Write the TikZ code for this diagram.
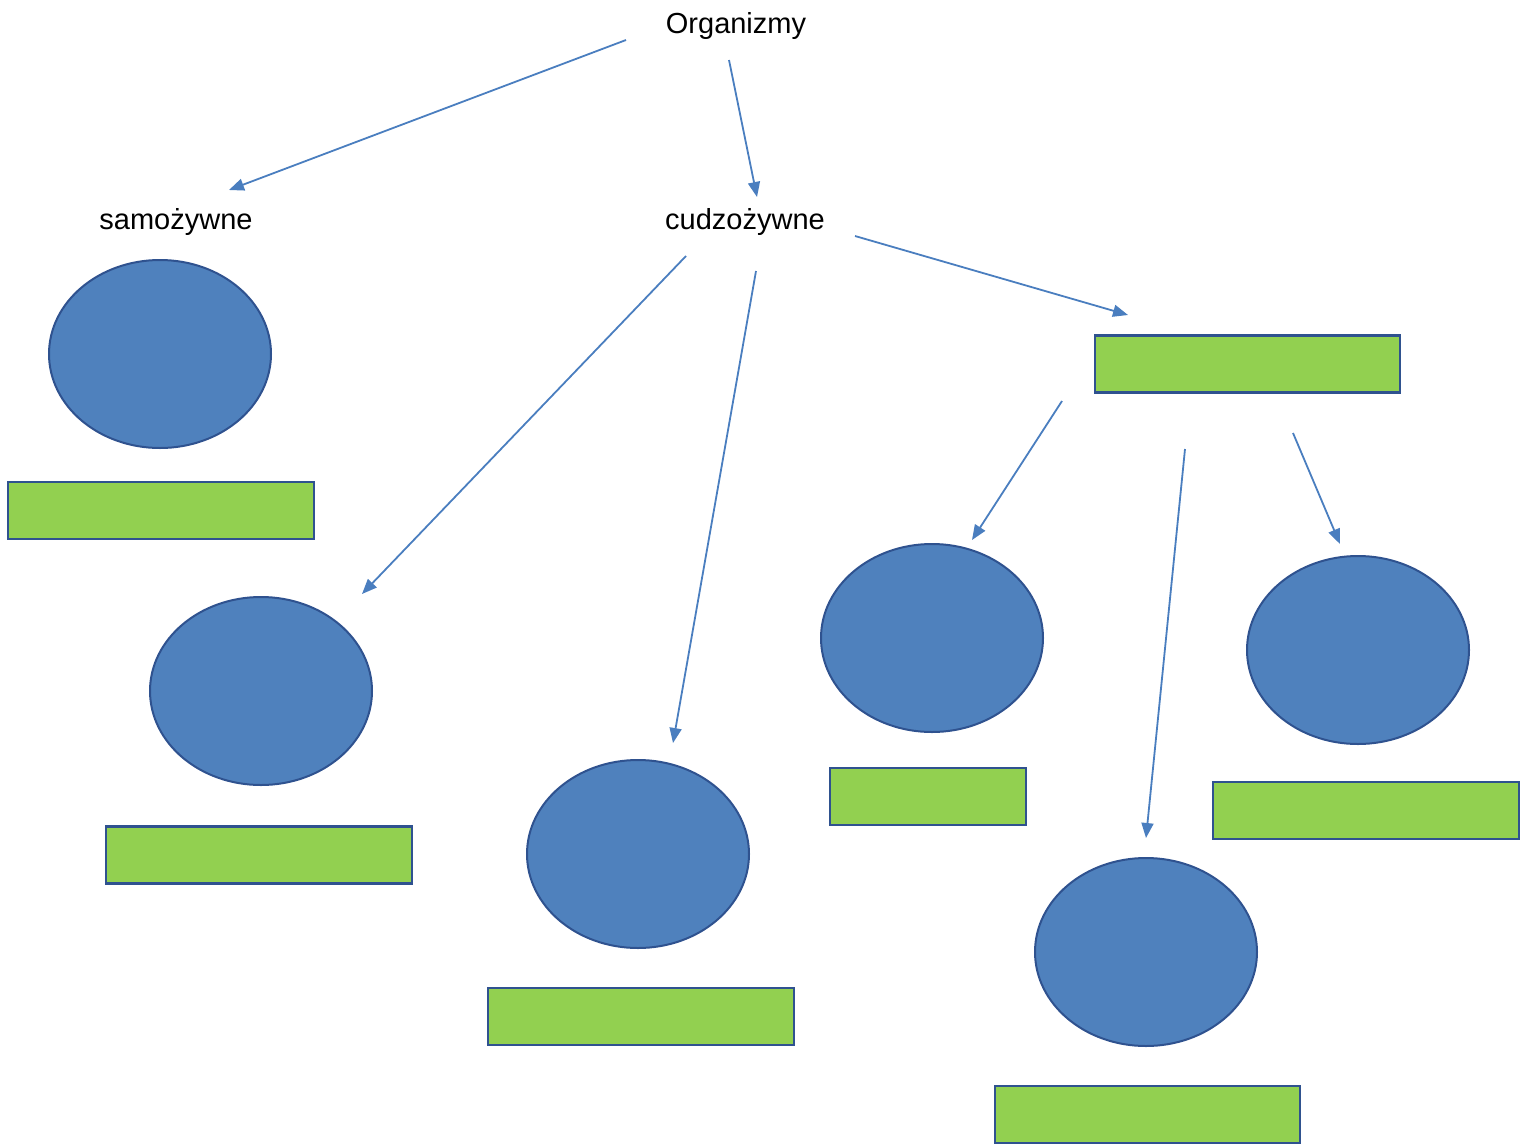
\documentclass[tikz,border=0pt]{standalone}
\usepackage{fontspec}
\setmainfont{Liberation Sans}
\usetikzlibrary{arrows.meta,shapes.geometric}
\definecolor{fillblue}{HTML}{4F81BD}
\definecolor{edgeblue}{HTML}{2F528F}
\definecolor{fillgreen}{HTML}{92D050}
\definecolor{arrowblue}{HTML}{4A7EBF}
\begin{document}
\begin{tikzpicture}[x=1pt,y=-1pt,
  blob/.style={ellipse,draw=edgeblue,fill=fillblue,line width=2pt,minimum width=222pt,minimum height=188pt,inner sep=0pt},
  bar/.style={draw=edgeblue,fill=fillgreen,line width=2.5pt,inner sep=0pt},
  lbl/.style={font=\fontsize{29}{34}\selectfont,inner sep=0pt},
  conn/.style={draw=arrowblue,line width=1.8pt,-{Triangle[length=15pt,width=12pt]}}]
\useasboundingbox (0,0) rectangle (1524,1144);
% labels
\node[lbl] (org) at (736,26) {Organizmy};
\node[lbl] (samo) at (176,222) {samożywne};
\node[lbl] (cudzo) at (745,222) {cudzożywne};
% ellipses
\node[blob] (e1) at (160,354) {};
\node[blob] (e2) at (261,691) {};
\node[blob] (e3) at (638,854) {};
\node[blob] (e4) at (932,638) {};
\node[blob] (e5) at (1358,650) {};
\node[blob] (e6) at (1146,952) {};
% bars
\node[bar,minimum width=306pt,minimum height=57pt] (r1) at (161,510.5) {};
\node[bar,minimum width=306pt,minimum height=57pt] (r2) at (259,855) {};
\node[bar,minimum width=306pt,minimum height=57pt] (r3) at (641,1016.5) {};
\node[bar,minimum width=196pt,minimum height=57pt] (r4) at (928,796.5) {};
\node[bar,minimum width=306pt,minimum height=57pt] (r5) at (1366,810.5) {};
\node[bar,minimum width=305pt,minimum height=57pt] (r6) at (1147.5,1114.5) {};
\node[bar,minimum width=305pt,minimum height=57pt] (r7) at (1247.5,364) {};
% connector ends
\coordinate (s1) at (626,40);   \coordinate (t1) at (229,190);
\coordinate (s2) at (729,60);   \coordinate (t2) at (757,197);
\coordinate (s3) at (855,236);  \coordinate (t3) at (1128,315);
\coordinate (s4) at (686,256);  \coordinate (t4) at (362,594);
\coordinate (s5) at (756,271);  \coordinate (t5) at (673,743);
\coordinate (s6) at (1062,401); \coordinate (t6) at (972,540);
\coordinate (s7) at (1185,449); \coordinate (t7) at (1146,838);
\coordinate (s8) at (1293,433); \coordinate (t8) at (1340,544);
\draw[conn] (s1) -- (t1);
\draw[conn] (s2) -- (t2);
\draw[conn] (s3) -- (t3);
\draw[conn] (s4) -- (t4);
\draw[conn] (s5) -- (t5);
\draw[conn] (s6) -- (t6);
\draw[conn] (s7) -- (t7);
\draw[conn] (s8) -- (t8);
\end{tikzpicture}
\end{document}
